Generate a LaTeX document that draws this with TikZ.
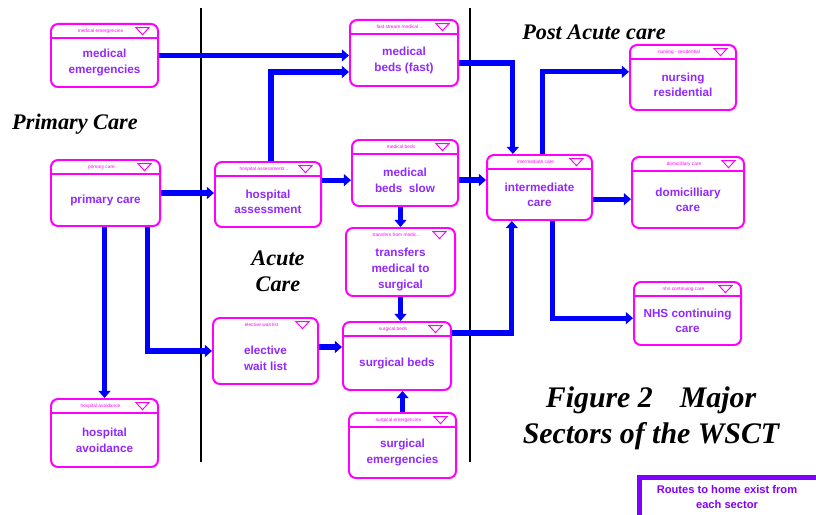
\documentclass[tikz,border=0pt]{standalone}
\usepackage{fontspec}
\setmainfont{Liberation Serif}
\setsansfont{Liberation Sans}
\usetikzlibrary{arrows.meta}
\definecolor{boxpink}{RGB}{255,0,255}
\definecolor{boxtext}{RGB}{145,40,255}
\definecolor{routeblue}{RGB}{0,0,255}
\definecolor{notepurple}{RGB}{128,0,255}

% name, centre, width, height, header, text
\newcommand{\sectorbox}[6]{%
  \node[sbox,minimum width=#3,minimum height=#4] (#1) at #2 {};
  \node[shead] (#1-hd) at ([xshift=-0.12cm,yshift=-0.24cm]#1.north) {#5};
  \node[stext] (#1-txt) at ([yshift=-0.22cm]#1.center) {#6};
  \draw[stri] ([xshift=-0.3cm,yshift=-0.14cm]#1.north east) -- ++(-13,0) -- ++(6.5,7) -- cycle;
}

\begin{document}
\begin{tikzpicture}[x=0.03cm,y=-0.03cm,
  sbox/.style={draw=boxpink,line width=1.7pt,rounded corners=6pt,fill=white},
  shead/.style={font=\sffamily\fontsize{4.1}{5}\selectfont,text=boxpink,inner sep=0pt},
  stext/.style={font=\sffamily\bfseries\fontsize{10}{13.5}\selectfont,text=boxtext,align=center},
  stri/.style={draw=boxpink,line width=0.8pt},
  hline/.style={draw=boxpink,line width=0.9pt},
  route/.style={draw=routeblue,line width=4.3pt,-{Triangle[length=6pt,width=10pt]}},
  sector/.style={font=\bfseries\itshape\fontsize{19}{22}\selectfont,align=center}]
  \useasboundingbox (0,0) rectangle (816,515);
  \clip (0,0) rectangle (816,515);

  % dividers
  \draw[line width=1.2pt] (201,8) -- (201,462);
  \draw[line width=1.2pt] (470,8) -- (470,462);

  % sector titles
  \node[sector] (primaryhd) at (75,124) {Primary Care};
  \node[sector] (acutehd) at (278,271) {Acute\\Care};
  \node[sector] (posthd) at (594,32) {Post Acute care};
  \node[sector,font=\bfseries\itshape\fontsize{25.5}{30.5}\selectfont] (figtitle) at (651,418)
       {Figure 2\hspace{0.9em}Major\\Sectors of the WSCT};

  % boxes
  \sectorbox{medemerg}{(104.5,55.5)}{3.21cm}{1.89cm}{medical emergencies}{medical\\emergencies}
  \sectorbox{medfast}{(404,53)}{3.24cm}{1.98cm}{fast stream medical ...}{medical\\beds (fast)}
  \sectorbox{primary}{(105.5,193)}{3.27cm}{1.98cm}{primary care}{primary care}
  \sectorbox{hospassess}{(268,194.5)}{3.18cm}{1.95cm}{hospital assessmentr...}{hospital\\assessment}
  \sectorbox{medslow}{(405,173)}{3.18cm}{1.98cm}{medical beds}{medical\\beds\ \ slow}
  \sectorbox{intermed}{(539.5,187.5)}{3.15cm}{1.95cm}{intermediate care}{intermediate\\care}
  \sectorbox{nursing}{(683,77.5)}{3.18cm}{1.95cm}{nursing - residential}{nursing\\residential}
  \sectorbox{domic}{(688,192.5)}{3.36cm}{2.13cm}{domicilliary care}{domicilliary\\care}
  \sectorbox{transfers}{(400.5,262)}{3.27cm}{2.04cm}{transfers from medic...}{transfers\\medical to\\surgical}
  \sectorbox{nhs}{(687.5,313.5)}{3.21cm}{1.89cm}{nhs continuing care}{NHS continuing\\care}
  \sectorbox{elective}{(265.5,351)}{3.15cm}{1.98cm}{elective wait list}{elective\\wait list}
  \sectorbox{surgbeds}{(397,356)}{3.24cm}{2.04cm}{surgical beds}{surgical beds}
  \sectorbox{hospavoid}{(104.5,433)}{3.21cm}{2.04cm}{hospital avoidance}{hospital\\avoidance}
  \sectorbox{surgemerg}{(402.5,445.5)}{3.21cm}{1.95cm}{surgical emergencies}{surgical\\emergencies}
  \foreach \n in {medemerg,medfast,primary,hospassess,medslow,intermed,nursing,domic,nhs,surgbeds,hospavoid,surgemerg}
    \draw[hline] ([yshift=-0.45cm]\n.north west) -- ([yshift=-0.45cm]\n.north east);

  % routes
  \draw[route] (medemerg.east) -- (medemerg.east -| medfast.west);
  \draw[route] ([xshift=0.09cm]hospassess.north) |- ([yshift=-0.57cm]medfast.west);
  \draw[route] ([yshift=-0.3cm]medfast.east) -| ([xshift=-0.8cm]intermed.north);
  \draw[route] (primary.east) -- (primary.east -| hospassess.west);
  \draw[route] ([yshift=0.43cm]hospassess.east) -- ([yshift=0.43cm]hospassess.east -| medslow.west);
  \draw[route] ([yshift=-0.21cm]medslow.east) -- ([yshift=-0.21cm]medslow.east -| intermed.west);
  \draw[route] (transfers.north |- medslow.south) -- (transfers.north);
  \draw[route] (transfers.south) -- (transfers.south |- surgbeds.north);
  \draw[route] (surgemerg.north) -- (surgemerg.north |- surgbeds.south);
  \draw[route] ([yshift=0.12cm]elective.east) -- ([yshift=0.12cm]elective.east -| surgbeds.west);
  \draw[route] ([xshift=1.25cm]primary.south) |- (elective.west);
  \draw[route] (hospavoid.north |- primary.south) -- (hospavoid.north);
  \draw[route] ([yshift=0.69cm]surgbeds.east) -| ([xshift=-0.83cm]intermed.south);
  \draw[route] ([xshift=0.1cm]intermed.north) |- ([yshift=0.17cm]nursing.west);
  \draw[route] ([yshift=-0.35cm]intermed.east) -- ([yshift=-0.35cm]intermed.east -| domic.west);
  \draw[route] ([xshift=0.38cm]intermed.south) |- ([yshift=-0.14cm]nhs.west);

  % note
  \draw[line width=4.5pt,notepurple] (639.5,540) |- (840,477.5);
  \node[font=\sffamily\bfseries\fontsize{9.5}{12.8}\selectfont,text=notepurple,align=center] (routes) at (727,497)
       {Routes to home exist from\\each sector};
\end{tikzpicture}
\end{document}
